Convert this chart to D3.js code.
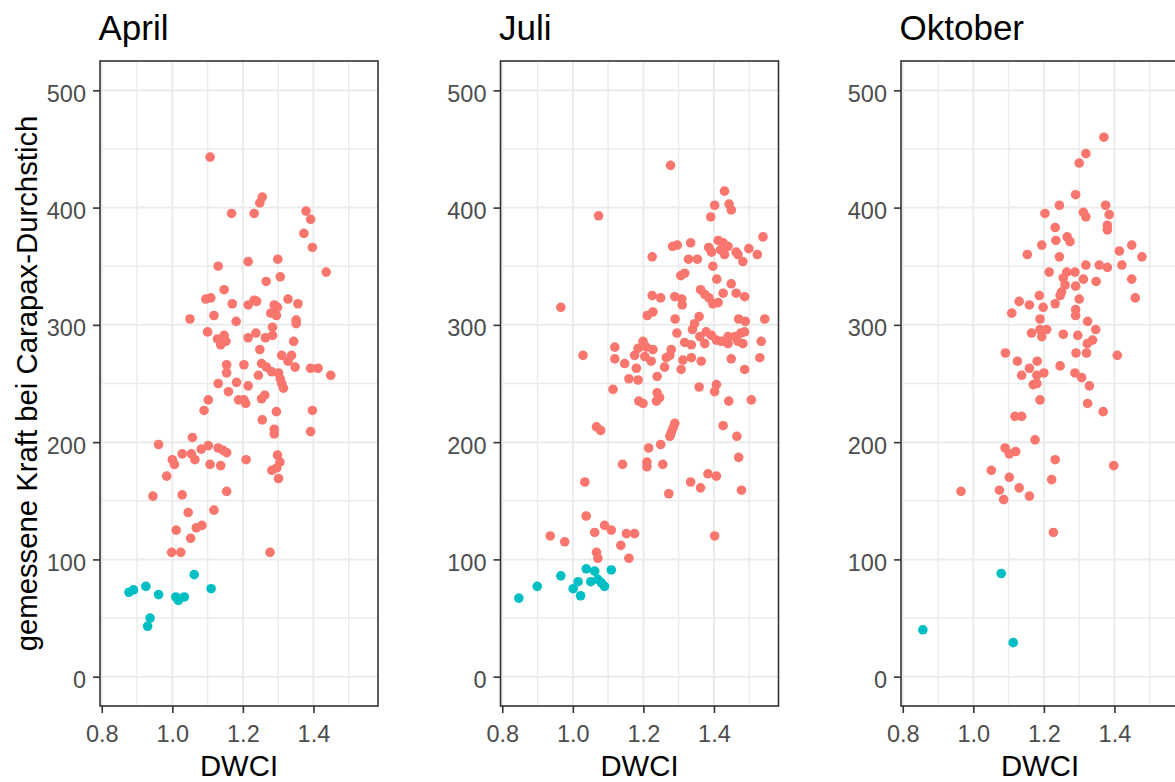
<!DOCTYPE html>
<html>
<head>
<meta charset="utf-8">
<script src="https://cdn.jsdelivr.net/npm/d3@7"></script>
<style>
  html, body { margin: 0; padding: 0; background: #ffffff; overflow: hidden; }
  svg { display: block; font-family: "Liberation Sans", Arial, sans-serif; }
</style>
</head>
<body>
<svg id="chart" width="1175" height="782"></svg>
<script>
// DWCI vs. measured puncture force, one panel per sampling month.
// Each group: [DWCI, Kraft] pairs.
const aprilHoch = [
  [1.107,443],[1.255,409],[1.248,404],[1.168,395],[1.232,395],[1.379,397],[1.392,390],[1.373,378],
  [1.397,366],[1.130,350],[1.215,354],[1.299,356],[1.436,345],[1.306,341],[1.266,337],[1.147,330],
  [1.095,322],[1.109,323],[1.170,318],[1.215,317],[1.232,321],[1.239,320],[1.289,317],[1.298,315],
  [1.279,310],[1.295,308],[1.328,322],[1.356,318],[1.050,305],[1.118,308],[1.181,303],[1.351,304],
  [1.351,301],[1.100,294],[1.128,288],[1.147,291],[1.137,283],[1.152,286],[1.215,289],[1.237,293],
  [1.264,289],[1.284,298],[1.284,291],[1.344,286],[1.248,279],[1.310,274],[1.338,274],[1.328,269],
  [1.154,266],[1.203,266],[1.253,267],[1.267,264],[1.348,264],[1.392,263],[1.413,263],[1.154,259],
  [1.244,257],[1.282,260],[1.301,259],[1.306,254],[1.310,250],[1.315,246],[1.449,257],[1.130,250],
  [1.182,251],[1.215,248],[1.159,243],[1.188,236],[1.203,236],[1.208,233],[1.253,237],[1.262,240],
  [1.102,236],[1.090,227],[1.295,226],[1.397,227],[1.255,219],[1.289,211],[1.289,207],[1.392,209],
  [0.961,198],[1.057,204],[1.000,185],[1.006,181],[1.028,190],[1.054,190],[1.064,185],[1.082,194],
  [1.102,197],[1.130,195],[1.144,193],[1.154,191],[1.107,181],[1.137,180],[1.209,185],[1.298,189],
  [1.305,183],[1.282,176],[1.296,178],[1.301,169],[0.984,171],[0.945,154],[1.028,155],[1.154,158],
  [1.045,140],[1.118,142],[1.011,125],[1.068,127],[1.084,129],[1.052,118],[0.998,106],[1.024,106],
  [1.277,106]
];
const aprilNiedrig = [
  [1.062,87],[0.877,72],[0.890,74],[0.925,77],[0.961,70],[1.010,68],[1.017,65],[1.034,68],
  [1.110,75],[0.937,50],[0.930,43]
];
const juliHoch = [
  [1.277,436],[1.073,393],[1.430,414],[1.402,402],[1.443,403],[1.449,398],[1.391,392],[1.539,375],
  [1.283,367],[1.296,368],[1.334,370],[1.225,358],[1.328,356],[1.353,356],[1.385,366],[1.412,372],
  [1.426,370],[1.440,367],[1.419,364],[1.430,360],[1.463,362],[1.468,360],[1.393,362],[1.482,354],
  [1.499,365],[1.523,360],[1.397,350],[1.306,342],[1.317,344],[1.408,339],[1.449,335],[1.426,327],
  [1.362,330],[1.374,326],[1.386,323],[1.397,318],[1.412,319],[1.463,327],[1.487,324],[1.225,325],
  [1.249,323],[1.289,324],[1.309,322],[1.310,317],[1.211,308],[1.227,311],[0.966,315],[1.290,305],
  [1.358,307],[1.345,301],[1.339,296],[1.470,305],[1.489,303],[1.544,305],[1.295,293],[1.378,294],
  [1.393,291],[1.360,290],[1.440,290],[1.459,290],[1.476,293],[1.487,294],[1.317,285],[1.336,283],
  [1.374,284],[1.407,287],[1.421,286],[1.440,284],[1.468,286],[1.482,284],[1.534,286],[1.119,281],
  [1.199,286],[1.185,280],[1.208,281],[1.227,279],[1.175,274],[1.204,273],[1.029,274],[1.119,271],
  [1.147,267],[1.279,279],[1.275,274],[1.265,272],[1.312,270],[1.336,272],[1.364,269],[1.449,271],
  [1.530,272],[1.222,269],[1.260,264],[1.487,262],[1.180,263],[1.307,262],[1.159,254],[1.185,253],
  [1.239,256],[1.114,245],[1.358,247],[1.407,249],[1.402,243],[1.239,242],[1.246,238],[1.237,235],
  [1.187,235],[1.199,233],[1.442,235],[1.506,236],[1.067,213],[1.079,210],[1.289,216],[1.284,212],
  [1.279,208],[1.275,205],[1.426,214],[1.465,205],[1.215,195],[1.249,198],[1.210,183],[1.210,179],
  [1.141,181],[1.255,181],[1.470,187],[1.383,173],[1.407,171],[1.334,166],[1.362,161],[1.478,159],
  [1.272,156],[1.034,166],[1.038,137],[1.090,129],[1.109,125],[1.062,123],[1.152,122],[1.175,122],
  [0.936,120],[0.977,115],[1.136,112],[1.402,120],[1.067,106],[1.071,101],[1.159,101]
];
const juliNiedrig = [
  [1.038,92],[1.062,90],[1.109,91],[0.966,86],[1.015,81],[1.001,75],[1.051,81],[1.071,83],
  [1.081,80],[1.090,77],[0.899,77],[0.847,67],[1.022,69]
];
const oktoberHoch = [
  [1.370,460],[1.319,446],[1.300,438],[1.290,411],[1.244,402],[1.203,395],[1.312,396],[1.319,392],
  [1.375,402],[1.385,394],[1.380,385],[1.380,381],[1.232,383],[1.266,375],[1.274,371],[1.234,372],
  [1.194,368],[1.153,360],[1.244,358],[1.414,363],[1.449,368],[1.478,358],[1.319,351],[1.357,351],
  [1.380,349],[1.421,351],[1.215,345],[1.265,345],[1.288,345],[1.255,340],[1.260,334],[1.312,339],
  [1.348,337],[1.290,333],[1.449,339],[1.459,323],[1.250,328],[1.246,325],[1.187,325],[1.130,320],
  [1.159,317],[1.198,315],[1.232,318],[1.300,322],[1.109,310],[1.290,313],[1.290,308],[1.189,305],
  [1.324,303],[1.165,293],[1.189,296],[1.208,296],[1.194,290],[1.255,292],[1.296,291],[1.347,296],
  [1.338,287],[1.323,284],[1.321,276],[1.291,276],[1.091,276],[1.125,269],[1.181,269],[1.246,265],
  [1.408,274],[1.159,263],[1.137,257],[1.180,257],[1.200,259],[1.288,259],[1.307,255],[1.329,248],
  [1.170,249],[1.180,250],[1.189,236],[1.324,233],[1.368,226],[1.118,222],[1.137,222],[1.175,202],
  [1.090,195],[1.102,190],[1.120,192],[1.232,185],[1.398,180],[1.051,176],[1.102,170],[1.222,168],
  [0.965,158],[1.074,159],[1.086,151],[1.130,161],[1.159,154],[1.227,123]
];
const oktoberNiedrig = [[1.079,88],[0.857,40],[1.113,29]];

const monate = ["April", "Juli", "Oktober"];
const xTicks = [0.8, 1.0, 1.2, 1.4];
const xMinor = [0.9, 1.1, 1.3, 1.5];
const yTicks = [0, 100, 200, 300, 400, 500];
const yMinor = [50, 150, 250, 350, 450];
const xTitel = "DWCI";
const yTitel = "gemessene Kraft bei Carapax-Durchstich";

const panels = [
  { titel: monate[0], hoch: aprilHoch, niedrig: aprilNiedrig },
  { titel: monate[1], hoch: juliHoch, niedrig: juliNiedrig },
  { titel: monate[2], hoch: oktoberHoch, niedrig: oktoberNiedrig }
];

const farbeHoch = "#F8766D";
const farbeNiedrig = "#00BFC4";

const svg = d3.select("#chart");
const panelW = 278, panelTop = 61, panelBottom = 706;
const lefts = [100, 500.5, 901];
const punktRadius = 4.8;

panels.forEach((p, i) => {
  const left = lefts[i];
  const x = d3.scaleLinear().domain([0.795, 1.583]).range([left, left + panelW]);
  const y = d3.scaleLinear().domain([-25, 525]).range([panelBottom, panelTop]);
  const g = svg.append("g");

  // panel background and grid
  g.append("rect").attr("x", left).attr("y", panelTop)
    .attr("width", panelW).attr("height", panelBottom - panelTop).attr("fill", "#ffffff");

  g.selectAll(".gxm").data(xMinor).join("line")
    .attr("x1", d => x(d)).attr("x2", d => x(d)).attr("y1", panelTop).attr("y2", panelBottom)
    .attr("stroke", "#ebebeb").attr("stroke-width", 1.4);
  g.selectAll(".gym").data(yMinor).join("line")
    .attr("x1", left).attr("x2", left + panelW).attr("y1", d => y(d)).attr("y2", d => y(d))
    .attr("stroke", "#ebebeb").attr("stroke-width", 1.4);
  g.selectAll(".gx").data(xTicks).join("line")
    .attr("x1", d => x(d)).attr("x2", d => x(d)).attr("y1", panelTop).attr("y2", panelBottom)
    .attr("stroke", "#ebebeb").attr("stroke-width", 2);
  g.selectAll(".gy").data(yTicks).join("line")
    .attr("x1", left).attr("x2", left + panelW).attr("y1", d => y(d)).attr("y2", d => y(d))
    .attr("stroke", "#ebebeb").attr("stroke-width", 2);

  // points
  g.append("g").selectAll("circle").data(p.hoch).join("circle")
    .attr("cx", d => x(d[0])).attr("cy", d => y(d[1])).attr("r", punktRadius)
    .attr("fill", farbeHoch);
  g.append("g").selectAll("circle").data(p.niedrig).join("circle")
    .attr("cx", d => x(d[0])).attr("cy", d => y(d[1])).attr("r", punktRadius)
    .attr("fill", farbeNiedrig);

  // panel border
  g.append("rect").attr("x", left).attr("y", panelTop)
    .attr("width", panelW).attr("height", panelBottom - panelTop)
    .attr("fill", "none").attr("stroke", "#333333").attr("stroke-width", 1.6);

  // axes
  const xAxis = d3.axisBottom(x).tickValues(xTicks).tickFormat(d3.format(".1f"))
    .tickSize(7).tickPadding(6);
  const yAxis = d3.axisLeft(y).tickValues(yTicks).tickFormat(d3.format("d"))
    .tickSize(7).tickPadding(7);

  const gx = g.append("g").attr("transform", `translate(0,${panelBottom})`).call(xAxis);
  const gy = g.append("g").attr("transform", `translate(${left},0)`).call(yAxis);
  [gx, gy].forEach(a => {
    a.select(".domain").remove();
    a.selectAll(".tick line").attr("stroke", "#333333").attr("stroke-width", 1.6);
    a.selectAll(".tick text").attr("fill", "#4d4d4d")
      .style("font-size", "23.5px").style("font-family", "'Liberation Sans', Arial, sans-serif");
  });
  gx.selectAll(".tick text").attr("dy", null).attr("y", 36);
  gy.selectAll(".tick text").attr("dy", null).attr("y", 11).attr("x", -14);

  // titles
  svg.append("text").attr("x", left - 1.5).attr("y", 40)
    .attr("fill", "#000000").style("font-size", "35px").text(p.titel);
  svg.append("text").attr("x", left + panelW / 2).attr("y", 776)
    .attr("text-anchor", "middle").attr("fill", "#000000")
    .style("font-size", "29.3px").text(xTitel);
});

svg.append("text")
  .attr("transform", `translate(37,${(panelTop + panelBottom) / 2}) rotate(-90)`)
  .attr("text-anchor", "middle").attr("fill", "#000000")
  .style("font-size", "29.3px").text(yTitel);
</script>
</body>
</html>
